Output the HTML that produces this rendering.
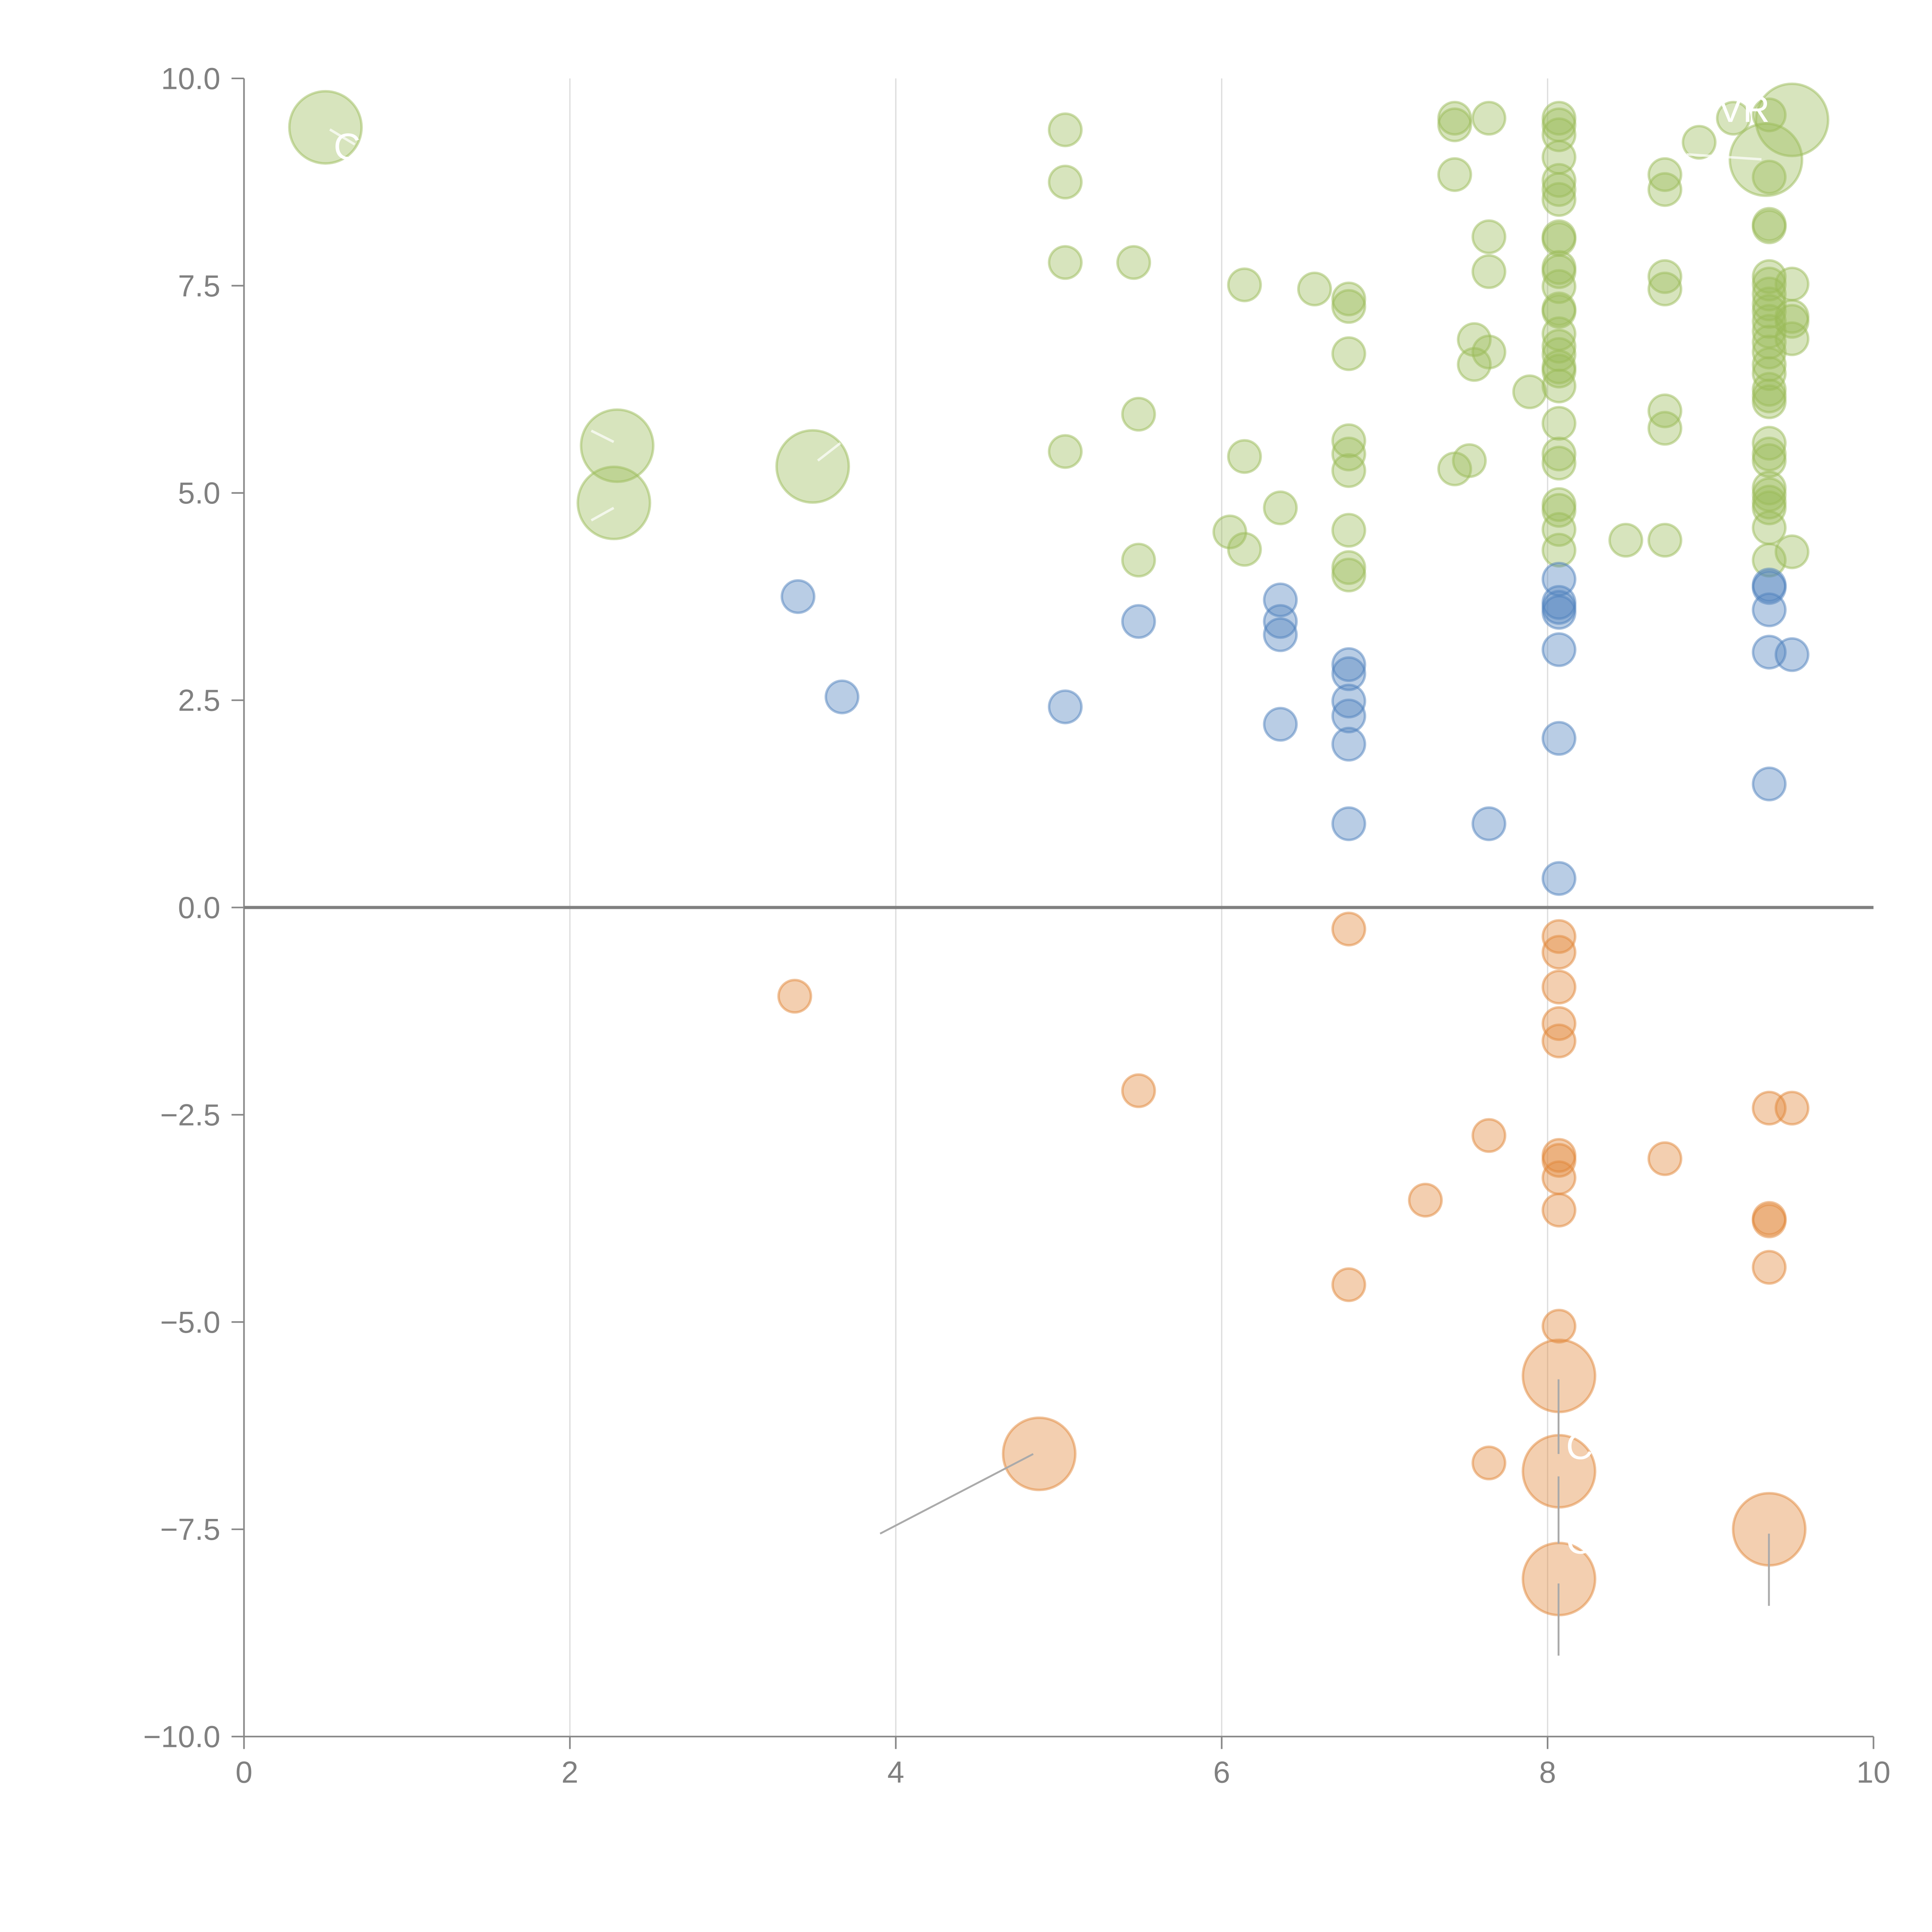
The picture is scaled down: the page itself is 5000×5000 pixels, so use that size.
<!DOCTYPE html>
<html><head><meta charset="utf-8"><style>
html,body{margin:0;padding:0;background:#fff;}
svg{display:block;}
text{font-family:"Liberation Sans",Arial,sans-serif;fill:#808080;}
</style></head><body>
<svg id="chart" width="5000" height="5000" viewBox="0 0 1552 1552" xmlns="http://www.w3.org/2000/svg">
<g id="grid"></g>
<g id="axes"></g>
<g id="marks"></g>
<g id="notes"></g>
</svg>
<script>
const xTicks=[0,2,4,6,8,10];
const yTicks=[10,7.5,5,2.5,0,-2.5,-5,-7.5,-10];
const yTickLabels=["10.0","7.5","5.0","2.5","0.0","\u22122.5","\u22125.0","\u22127.5","\u221210.0"];
const greenX=[0.5,2.29,2.27,3.49,5.04,5.04,5.04,5.46,5.49,5.04,5.49,6.14,6.14,6.05,6.14,6.36,6.57,6.78,6.78,6.78,6.78,6.78,6.78,6.78,6.78,6.78,7.43,7.43,7.64,7.43,7.64,7.64,7.55,7.55,7.64,7.89,7.43,7.52,
8.07,8.07,8.07,8.07,8.07,8.07,8.07,8.07,8.07,8.07,8.07,8.07,8.07,8.07,8.07,8.07,8.07,8.07,8.07,8.07,8.07,8.07,8.07,8.07,8.07,8.07,8.07,
8.48,8.72,8.72,8.72,8.72,8.72,8.72,8.72,8.93,9.14,9.36,9.5,9.34,
9.36,9.36,9.36,9.36,9.36,9.36,9.36,9.36,9.36,9.36,9.36,9.36,9.36,9.36,9.36,9.36,9.36,9.36,9.36,9.36,9.36,9.36,9.36,9.36,9.36,9.36,
9.5,9.5,9.5,9.5,9.5];
const greenY=[9.41,5.57,4.88,5.32,9.38,8.75,7.78,7.78,5.95,5.5,4.19,7.51,5.44,4.53,4.32,4.82,7.46,7.34,7.25,6.68,5.63,5.47,5.27,4.55,4.1,4.01,9.52,9.44,9.52,8.84,8.09,7.67,6.85,6.55,6.7,6.22,5.29,5.39,
9.52,9.44,9.32,9.05,8.77,8.66,8.54,8.09,8.06,7.72,7.67,7.49,7.22,7.19,6.92,6.77,6.67,6.52,6.47,6.29,5.84,5.47,5.36,4.86,4.79,4.56,4.31,
4.43,4.43,8.84,8.66,7.61,7.46,5.99,5.78,9.23,9.52,9.56,9.5,9.02,
8.81,8.24,8.21,7.61,7.52,7.40,7.28,7.19,7.07,6.95,6.82,6.70,6.55,6.44,6.25,6.17,6.10,5.60,5.47,5.39,5.06,4.98,4.89,4.82,4.58,4.19,
7.52,7.13,7.07,6.86,4.29];
const greenBig=[0,1,2,3,76,77];
const blueX=[3.4,3.67,5.04,5.49,6.36,6.36,6.36,6.36,6.78,6.78,6.78,6.78,6.78,6.78,7.64,8.07,8.07,8.07,8.07,8.07,8.07,8.07,9.36,9.36,9.36,9.36,9.36,9.5];
const blueY=[3.75,2.54,2.42,3.45,3.71,3.45,3.29,2.21,2.93,2.82,2.49,2.31,1.97,1.01,1.01,3.96,3.68,3.62,3.56,3.11,2.04,0.35,3.89,3.86,3.59,3.08,1.49,3.05];
const orangeX=[6.78,3.38,5.49,7.64,7.25,6.78,8.07,8.07,8.07,8.07,8.07,8.07,8.07,8.07,8.07,8.07,7.64,8.72,9.36,9.5,9.36,9.36,9.36,8.07,8.07,8.07,4.88,9.36];
const orangeY=[-0.26,-1.07,-2.21,-2.75,-3.53,-4.55,-0.35,-0.54,-0.96,-1.40,-1.61,-2.99,-3.05,-3.26,-3.65,-5.05,-6.7,-3.03,-2.42,-2.42,-3.75,-3.78,-4.34,-5.65,-6.8,-8.1,-6.59,-7.5];
const orangeBig=[23,24,25,26,27];

const NS="http://www.w3.org/2000/svg";
const X0=196,X1=1505,Y0=1395,Y1=63;
function sx(v){return X0+(v-0)/(10-0)*(X1-X0);}
function sy(v){return Y0-(v+10)/20*(Y0-Y1);}
function mk(tag,attrs,parent){const e=document.createElementNS(NS,tag);for(const k in attrs)e.setAttribute(k,attrs[k]);parent.appendChild(e);return e;}
const grid=document.getElementById('grid'),axes=document.getElementById('axes'),marks=document.getElementById('marks'),notes=document.getElementById('notes');
xTicks.slice(1,-1).forEach(t=>{const l=mk('line',{x1:sx(t),x2:sx(t),y1:Y1,y2:Y0,stroke:'#dcdcdc','stroke-width':1},grid);

});
let a=mk('line',{x1:X0,x2:X0,y1:Y1,y2:Y0,stroke:'#888','stroke-width':1.3},axes);


a=mk('line',{x1:X0,x2:X1,y1:Y0,y2:Y0,stroke:'#888','stroke-width':1.3},axes);


a=mk('line',{x1:X0,x2:X1,y1:sy(0),y2:sy(0),stroke:'#808080','stroke-width':2.5},axes);


yTicks.forEach((t,i)=>{const l=mk('line',{x1:X0-10,x2:X0,y1:sy(t),y2:sy(t),stroke:'#888','stroke-width':1.3},axes);


const tx=mk('text',{x:X0-19,y:sy(t)+8.5,'text-anchor':'end','font-size':24.5},axes);tx.textContent=yTickLabels[i];

});
xTicks.forEach(t=>{const l=mk('line',{x1:sx(t),x2:sx(t),y1:Y0,y2:Y0+10,stroke:'#888','stroke-width':1.3},axes);


const tx=mk('text',{x:sx(t),y:Y0+37,'text-anchor':'middle','font-size':24.5},axes);tx.textContent=String(t);

});
function draw(xs,ys,bigIdx,fill,stroke,name){xs.forEach((x,i)=>{const big=bigIdx.includes(i);const c=mk('circle',{cx:sx(x),cy:sy(ys[i]),r:big?29:13,fill:fill,'fill-opacity':0.4,stroke:stroke,'stroke-opacity':0.5,'stroke-width':2},marks);

});}
draw(greenX,greenY,greenBig,'#9bbb59','#9bbb59','green-bubble');
draw(blueX,blueY,[],'#4f81bd','#4f81bd','blue-bubble');
draw(orangeX,orangeY,orangeBig,'#e2883a','#e2883a','orange-bubble');
[[830,1168,707,1232],[1252,1108,1252,1168],[1252,1186,1252,1240],[1252,1272,1252,1330],[1421,1232,1421,1290]].forEach(p=>{const l=mk('line',{x1:p[0],y1:p[1],x2:p[2],y2:p[3],stroke:'#aaa','stroke-width':1.5},notes);

});
[[265,104,285,116],[475,346,493,355],[475,418,493,408],[657,370,675,356],[1355,124,1415,128]].forEach(p=>{const l=mk('line',{x1:p[0],y1:p[1],x2:p[2],y2:p[3],stroke:'#fff','stroke-opacity':0.7,'stroke-width':2},notes);

});
[[268,128,'C'],[1380,98,'VR'],[1258,1172,'C'],[1258,1248,'C']].forEach(p=>{const t=mk('text',{x:p[0],y:p[1],'font-size':30},notes);t.style.fill='#fff';t.textContent=p[2];

});
</script>
</body></html>
